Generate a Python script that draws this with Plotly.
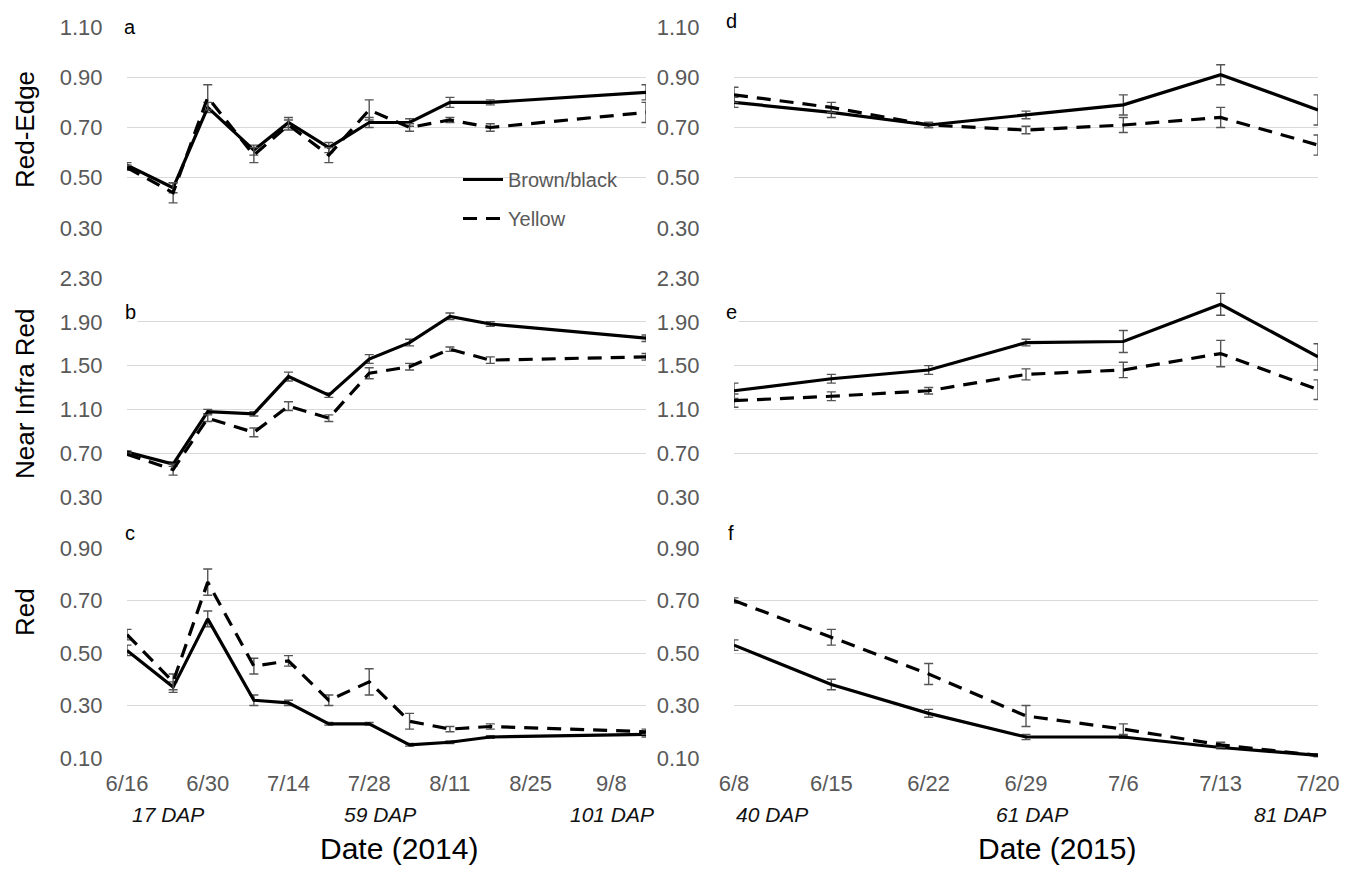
import plotly.graph_objects as go

# ---- 2014 season (panels a-c) ----
dates_2014 = ["2014-06-16", "2014-06-24", "2014-06-30", "2014-07-08", "2014-07-14",
              "2014-07-21", "2014-07-28", "2014-08-04", "2014-08-11", "2014-08-18",
              "2014-09-14"]

rededge_bb_2014 = [0.55, 0.46, 0.78, 0.61, 0.72, 0.62, 0.72, 0.72, 0.80, 0.80, 0.84]
rededge_bb_2014_err = [0.01, 0.02, 0.02, 0.02, 0.02, 0.02, 0.02, 0.015, 0.02, 0.01, 0.03]
rededge_y_2014 = [0.54, 0.44, 0.82, 0.59, 0.71, 0.59, 0.77, 0.70, 0.73, 0.70, 0.76]
rededge_y_2014_err = [0.01, 0.04, 0.05, 0.03, 0.02, 0.03, 0.04, 0.015, 0.01, 0.015, 0.04]

nir_bb_2014 = [0.71, 0.60, 1.08, 1.06, 1.40, 1.23, 1.56, 1.71, 1.95, 1.88, 1.75]
nir_bb_2014_err = [0.01, 0.02, 0.02, 0.02, 0.04, 0.02, 0.04, 0.03, 0.03, 0.02, 0.03]
nir_y_2014 = [0.69, 0.55, 1.02, 0.89, 1.13, 1.02, 1.43, 1.49, 1.65, 1.55, 1.58]
nir_y_2014_err = [0.01, 0.05, 0.03, 0.04, 0.04, 0.03, 0.05, 0.03, 0.02, 0.03, 0.03]

red_bb_2014 = [0.51, 0.37, 0.63, 0.32, 0.31, 0.23, 0.23, 0.15, 0.16, 0.18, 0.19]
red_bb_2014_err = [0.02, 0.02, 0.03, 0.02, 0.01, 0.005, 0.005, 0.005, 0.005, 0.005, 0.01]
red_y_2014 = [0.57, 0.39, 0.77, 0.45, 0.47, 0.32, 0.39, 0.24, 0.21, 0.22, 0.20]
red_y_2014_err = [0.02, 0.03, 0.05, 0.03, 0.02, 0.02, 0.05, 0.03, 0.01, 0.01, 0.01]

# ---- 2015 season (panels d-f) ----
dates_2015 = ["2015-06-08", "2015-06-15", "2015-06-22", "2015-06-29", "2015-07-06",
              "2015-07-13", "2015-07-20"]

rededge_bb_2015 = [0.80, 0.76, 0.71, 0.75, 0.79, 0.91, 0.77]
rededge_bb_2015_err = [0.02, 0.02, 0.01, 0.015, 0.04, 0.04, 0.06]
rededge_y_2015 = [0.83, 0.78, 0.71, 0.69, 0.71, 0.74, 0.63]
rededge_y_2015_err = [0.03, 0.02, 0.01, 0.015, 0.03, 0.04, 0.04]

nir_bb_2015 = [1.27, 1.38, 1.46, 1.71, 1.72, 2.06, 1.58]
nir_bb_2015_err = [0.07, 0.04, 0.04, 0.03, 0.10, 0.10, 0.12]
nir_y_2015 = [1.18, 1.22, 1.27, 1.42, 1.46, 1.61, 1.28]
nir_y_2015_err = [0.06, 0.04, 0.03, 0.05, 0.07, 0.12, 0.09]

red_bb_2015 = [0.53, 0.38, 0.27, 0.18, 0.18, 0.14, 0.11]
red_bb_2015_err = [0.02, 0.02, 0.015, 0.01, 0.005, 0.005, 0.005]
red_y_2015 = [0.70, 0.56, 0.42, 0.26, 0.21, 0.15, 0.11]
red_y_2015_err = [0.01, 0.03, 0.04, 0.04, 0.02, 0.01, 0.005]

series_names = ["Brown/black", "Yellow"]
panel_letters = ["a", "b", "c", "d", "e", "f"]
band_titles = ["Red-Edge", "Near Infra Red", "Red"]
x_titles = ["Date (2014)", "Date (2015)"]
dap_2014 = ["17 DAP", "59 DAP", "101 DAP"]
dap_2015 = ["40 DAP", "61 DAP", "81 DAP"]

W, H = 1361, 869
FONT = "Liberation Sans, Arial, sans-serif"
GRID = "#d9d9d9"
TICK = "#595959"
ERR = "#555555"


def px(x):
    return x / W


def py(y):
    return 1 - y / H


# panel pixel boxes: (left, right) and (top, bottom)
cols = [(127, 646), (734, 1318)]
rows = [(27, 228), (278, 497), (548, 758)]
y_ranges = [(0.30, 1.10, 0.2), (0.30, 2.30, 0.4), (0.10, 0.90, 0.2)]
x_ranges = [("2014-06-16", "2014-09-14", 14, "2014-06-16"),
            ("2015-06-08", "2015-07-20", 7, "2015-06-08")]

data = {
    (0, 0): (dates_2014, rededge_bb_2014, rededge_bb_2014_err, rededge_y_2014, rededge_y_2014_err),
    (1, 0): (dates_2014, nir_bb_2014, nir_bb_2014_err, nir_y_2014, nir_y_2014_err),
    (2, 0): (dates_2014, red_bb_2014, red_bb_2014_err, red_y_2014, red_y_2014_err),
    (0, 1): (dates_2015, rededge_bb_2015, rededge_bb_2015_err, rededge_y_2015, rededge_y_2015_err),
    (1, 1): (dates_2015, nir_bb_2015, nir_bb_2015_err, nir_y_2015, nir_y_2015_err),
    (2, 1): (dates_2015, red_bb_2015, red_bb_2015_err, red_y_2015, red_y_2015_err),
}

fig = go.Figure()
layout = dict()
annotations = []

idx = 0
for c in range(2):
    for r in range(3):
        idx += 1
        xa = "x" if idx == 1 else f"x{idx}"
        ya = "y" if idx == 1 else f"y{idx}"
        xkey = "xaxis" if idx == 1 else f"xaxis{idx}"
        ykey = "yaxis" if idx == 1 else f"yaxis{idx}"
        dates, bb, bb_err, yl, yl_err = data[(r, c)]

        for name, vals, errs, dash in [(series_names[0], bb, bb_err, "solid"),
                                       (series_names[1], yl, yl_err, "14px,9px")]:
            fig.add_trace(go.Scatter(
                x=dates, y=vals, mode="lines", name=name,
                line=dict(color="#000000", width=3.2, dash=dash),
                error_y=dict(type="data", array=errs, visible=True,
                             color=ERR, thickness=1.4, width=4.5),
                xaxis=xa, yaxis=ya,
                showlegend=(idx == 1), legendgroup=name,
            ))

        x0, x1 = cols[c]
        t, b = rows[r]
        lo, hi, step = y_ranges[r]
        xr0, xr1, dd, t0 = x_ranges[c]
        layout[xkey] = dict(
            domain=[px(x0), px(x1)], anchor=ya, type="date",
            range=[xr0, xr1], tick0=t0, dtick=dd * 86400000,
            tickformat="%-m/%-d", showgrid=False, zeroline=False,
            showline=False, ticks="outside", ticklen=6,
            tickcolor="rgba(0,0,0,0)", showticklabels=(r == 2),
            tickfont=dict(family=FONT, size=22, color=TICK),
            automargin=False,
        )
        layout[ykey] = dict(
            domain=[py(b), py(t)], anchor=xa,
            range=[lo - 1e-4, hi + 1e-4], tick0=lo, dtick=step,
            tickformat=".2f", showgrid=True, gridcolor=GRID, gridwidth=1.3,
            zeroline=False, showline=False, ticks="outside",
            ticklen=(19 if c == 0 else 29), tickcolor="rgba(0,0,0,0)",
            tickfont=dict(family=FONT, size=22, color=TICK),
            automargin=False,
        )

        # panel letter
        letter_pos = [(130, 27), (130, 312), (130, 533)] if c == 0 else \
                     [(731, 21), (731, 312), (731, 533)]
        lx, ly = letter_pos[r]
        annotations.append(dict(
            text=panel_letters[c * 3 + r], x=px(lx), y=py(ly), xref="paper", yref="paper",
            xanchor="center", yanchor="middle", showarrow=False,
            font=dict(family=FONT, size=20, color="#000000"),
            bgcolor="#ffffff",
        ))

# y-axis band titles
for title, ycen in zip(band_titles, [130, 394, 612]):
    annotations.append(dict(
        text=title, x=px(25), y=py(ycen), xref="paper", yref="paper",
        xanchor="center", yanchor="middle", textangle=-90, showarrow=False,
        font=dict(family=FONT, size=26, color="#000000"),
    ))

# x-axis titles
for title, xc in zip(x_titles, [399, 1057]):
    annotations.append(dict(
        text=title, x=px(xc), y=py(848), xref="paper", yref="paper",
        xanchor="center", yanchor="middle", showarrow=False,
        font=dict(family=FONT, size=30, color="#000000"),
    ))

# days-after-planting labels
for labels, xs in [(dap_2014, [168, 380, 612]), (dap_2015, [772, 1032, 1290])]:
    for lab, xc in zip(labels, xs):
        annotations.append(dict(
            text=f"<i>{lab}</i>", x=px(xc), y=py(814), xref="paper", yref="paper",
            xanchor="center", yanchor="middle", showarrow=False,
            font=dict(family=FONT, size=21, color="#111111"),
        ))

fig.update_layout(
    template="none",
    width=W, height=H,
    margin=dict(l=0, r=0, t=0, b=0, pad=0),
    paper_bgcolor="#ffffff", plot_bgcolor="#ffffff",
    showlegend=True,
    legend=dict(
        x=px(458), y=py(160), xanchor="left", yanchor="top",
        font=dict(family=FONT, size=20, color=TICK),
        bgcolor="rgba(0,0,0,0)", tracegroupgap=10, itemwidth=40,
    ),
    annotations=annotations,
    **layout,
)

fig.write_html("out.html")
